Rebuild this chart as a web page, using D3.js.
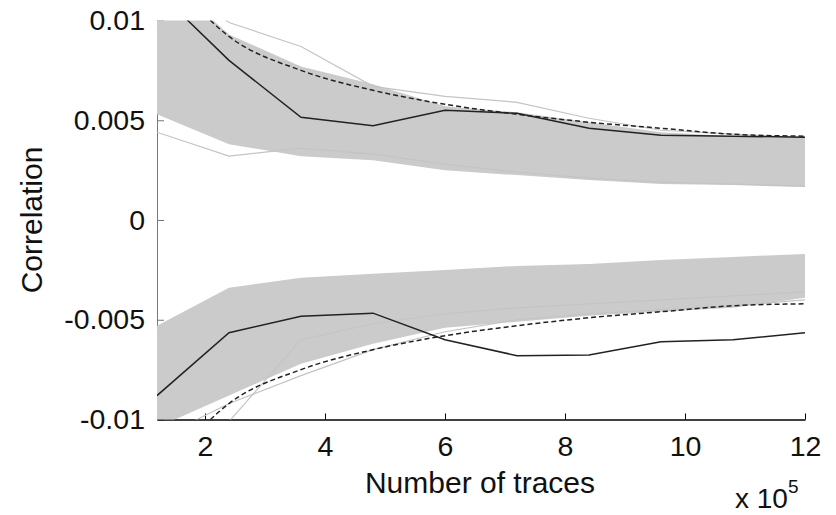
<!DOCTYPE html>
<html>
<head>
<meta charset="utf-8">
<script src="https://cdn.jsdelivr.net/npm/d3@7"></script>
<style>
  body { margin: 0; background: #fff; }
  text { font-family: "Liberation Sans", Arial, sans-serif; }
</style>
</head>
<body>
<div id="chart"></div>
<script>
// number of traces (x 10^5)
var traces = [1.2, 2.4, 3.6, 4.8, 6.0, 7.2, 8.4, 9.6, 10.8, 12];

// grey cloud of wrong key guesses, upper group (envelope)
var upperBandHi = [0.0125, 0.0093, 0.0077, 0.0068, 0.0057, 0.0054, 0.0049, 0.0044, 0.0042, 0.0041];
var upperBandLo = [0.0053, 0.0038, 0.0032, 0.0030, 0.0025, 0.00225, 0.0020, 0.0018, 0.00175, 0.00165];
// grey cloud, lower group
var lowerBandHi = [-0.0053, -0.0034, -0.0029, -0.0027, -0.0025, -0.0023, -0.0022, -0.0020, -0.00185, -0.0017];
var lowerBandLo = [-0.0104, -0.0088, -0.0072, -0.0062, -0.0054, -0.0051, -0.0048, -0.0046, -0.0044, -0.0039];

// a few grey curves sticking out of the cloud
var greyOut1 = [0.0125, 0.0099, 0.0087, 0.0067, 0.0062, 0.0059, 0.0051, 0.0045, 0.0043, 0.0041];
var greyOut2 = [0.0044, 0.0032, 0.0036, 0.0033, 0.0028, 0.0024, 0.0021, 0.0019, 0.0018, 0.0017];
var greyOut3 = [-0.0125, -0.0101, -0.0060, -0.0052, -0.0047, -0.0044, -0.0042, -0.0040, -0.0038, -0.0036];
var greyOut4 = [-0.0110, -0.0092, -0.0078, -0.0065, -0.0056, -0.0050, -0.0047, -0.0045, -0.0043, -0.0040];

// correct key
var correctHi = [0.0115, 0.0080, 0.00515, 0.00472, 0.0055, 0.00535, 0.0046, 0.00425, 0.0042, 0.00415];
var correctLo = [-0.0088, -0.00565, -0.00483, -0.00467, -0.0060, -0.0068, -0.00677, -0.0061, -0.0060, -0.00565];

// dashed confidence bounds
var boundHi = [0.0130, 0.0092, 0.0075, 0.0065, 0.0058, 0.0053, 0.0049, 0.0046, 0.0043, 0.0042];
var boundLo = [-0.0130, -0.0092, -0.0075, -0.0065, -0.0058, -0.0053, -0.0049, -0.0046, -0.0043, -0.0042];

var xTicks = [2, 4, 6, 8, 10, 12];
var yTicks = [0.01, 0.005, 0, -0.005, -0.01];
var yTickLabels = ["0.01", "0.005", "0", "-0.005", "-0.01"];

var W = 836, H = 515;
var plotL = 157, plotR = 805, plotT = 20.5, plotB = 419.5;

var svg = d3.select("#chart").append("svg")
    .attr("width", W)
    .attr("height", H)
    .style("background", "#fff");

var x = d3.scaleLinear().domain([1.2, 12]).range([plotL, plotR]);
var y = d3.scaleLinear().domain([-0.01, 0.01]).range([plotB, plotT]);

svg.append("clipPath").attr("id", "plot")
  .append("rect")
    .attr("x", plotL).attr("y", plotT)
    .attr("width", plotR - plotL).attr("height", plotB - plotT);

// axes
var yAxis = svg.append("g")
    .attr("transform", "translate(" + plotL + ",0)")
    .call(d3.axisLeft(y).tickValues(yTicks)
        .tickFormat(function(d, i) { return yTickLabels[i]; })
        .tickSizeInner(-7).tickSizeOuter(0).tickPadding(12));
yAxis.select(".domain").attr("stroke", "#777");
yAxis.selectAll(".tick line").attr("stroke", "#777");

var xAxis = svg.append("g")
    .attr("transform", "translate(0," + plotB + ")")
    .call(d3.axisBottom(x).tickValues(xTicks)
        .tickSizeInner(-6).tickSizeOuter(0).tickPadding(16));
xAxis.select(".domain").attr("stroke", "#000").attr("stroke-width", 1.5);

svg.selectAll(".tick text")
    .attr("font-size", 28.5)
    .attr("font-family", "Liberation Sans, Arial, sans-serif")
    .attr("fill", "#111");

var plot = svg.append("g").attr("clip-path", "url(#plot)");

var band = d3.area()
    .x(function(d, i) { return x(traces[i]); })
    .y0(function(d) { return y(d[0]); })
    .y1(function(d) { return y(d[1]); });

var line = d3.line()
    .x(function(d, i) { return x(traces[i]); })
    .y(function(d) { return y(d); });

var smooth = d3.line()
    .x(function(d, i) { return x(traces[i]); })
    .y(function(d) { return y(d); })
    .curve(d3.curveMonotoneX);

plot.append("path")
    .datum(d3.zip(upperBandLo, upperBandHi))
    .attr("d", band)
    .attr("fill", "#cbcbcb");

plot.append("path")
    .datum(d3.zip(lowerBandLo, lowerBandHi))
    .attr("d", band)
    .attr("fill", "#cbcbcb");

[greyOut1, greyOut2, greyOut3, greyOut4].forEach(function(s) {
    plot.append("path")
        .datum(s)
        .attr("d", line)
        .attr("fill", "none")
        .attr("stroke", "#c4c4c4")
        .attr("stroke-width", 1.2);
});

[boundHi, boundLo].forEach(function(s) {
    plot.append("path")
        .datum(s)
        .attr("d", smooth)
        .attr("fill", "none")
        .attr("stroke", "#222")
        .attr("stroke-width", 1.5)
        .attr("stroke-dasharray", "5,3");
});

[correctHi, correctLo].forEach(function(s) {
    plot.append("path")
        .datum(s)
        .attr("d", line)
        .attr("fill", "none")
        .attr("stroke", "#222")
        .attr("stroke-width", 1.5);
});

// labels
svg.append("text")
    .attr("transform", "translate(42," + ((plotT + plotB) / 2) + ") rotate(-90)")
    .attr("text-anchor", "middle")
    .attr("font-size", 30)
    .attr("fill", "#111")
    .text("Correlation");

svg.append("text")
    .attr("x", 480)
    .attr("y", 493)
    .attr("text-anchor", "middle")
    .attr("font-size", 30)
    .attr("fill", "#111")
    .text("Number of traces");

var mult = svg.append("text")
    .attr("x", 735)
    .attr("y", 508)
    .attr("font-size", 28)
    .attr("fill", "#111");
mult.append("tspan").text("x 10");
mult.append("tspan")
    .attr("dy", -15)
    .attr("font-size", 19)
    .text("5");
</script>
</body>
</html>
